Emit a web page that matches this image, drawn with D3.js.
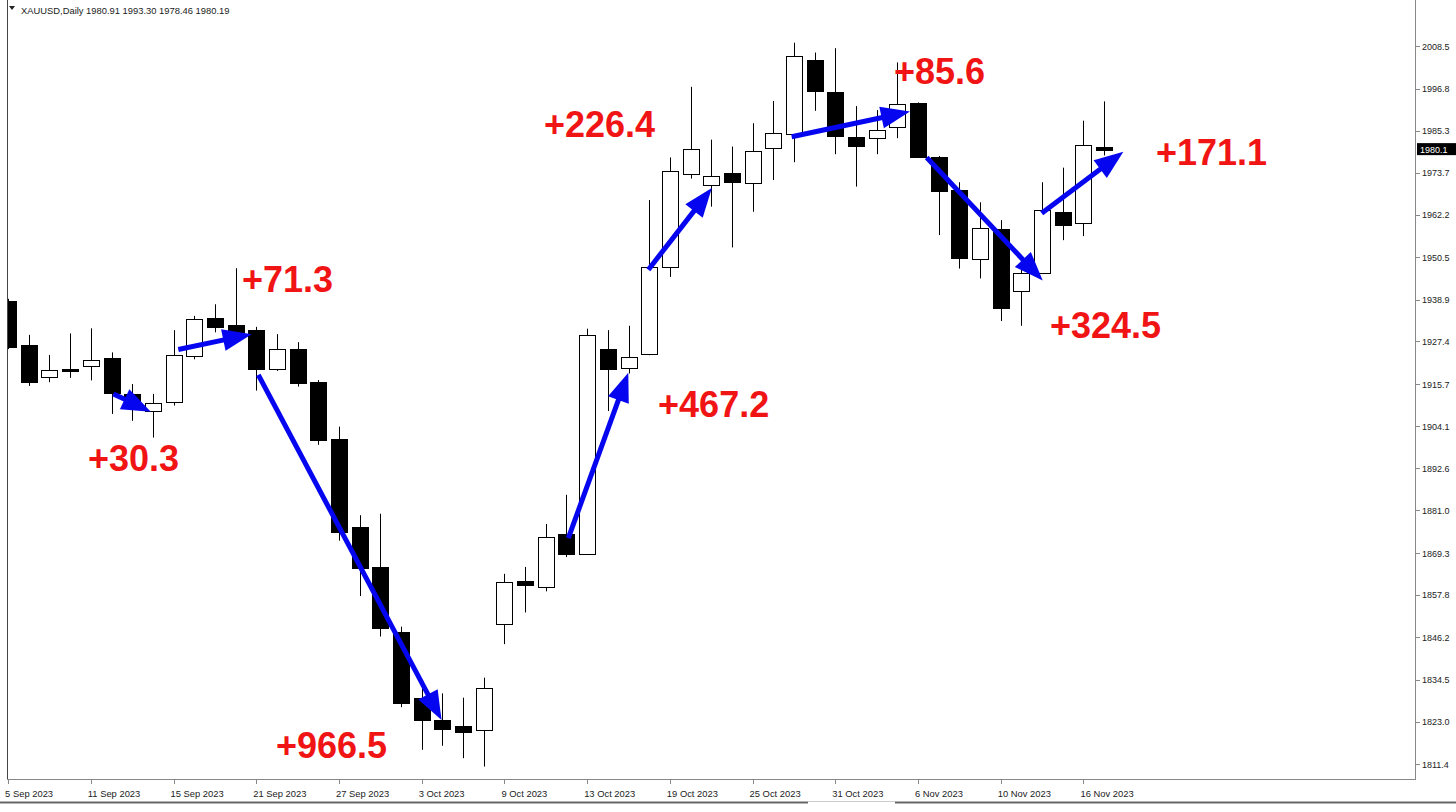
<!DOCTYPE html>
<html>
<head>
<meta charset="utf-8">
<script src="https://cdn.jsdelivr.net/npm/d3@7"></script>
<style>
  body { margin: 0; background: #fff; }
  svg { display: block; font-family: "Liberation Sans", Arial, sans-serif; }
</style>
</head>
<body>
<svg id="chart" width="1456" height="812"></svg>
<script>
// daily bars, 5 Sep 2023 .. 17 Nov 2023
var dates = ["5 Sep 2023","6 Sep 2023","7 Sep 2023","8 Sep 2023","11 Sep 2023","12 Sep 2023","13 Sep 2023","14 Sep 2023","15 Sep 2023",
  "18 Sep 2023","19 Sep 2023","20 Sep 2023","21 Sep 2023","22 Sep 2023","25 Sep 2023","26 Sep 2023","27 Sep 2023","28 Sep 2023","29 Sep 2023",
  "2 Oct 2023","3 Oct 2023","4 Oct 2023","5 Oct 2023","6 Oct 2023","9 Oct 2023","10 Oct 2023","11 Oct 2023","12 Oct 2023","13 Oct 2023",
  "16 Oct 2023","17 Oct 2023","18 Oct 2023","19 Oct 2023","20 Oct 2023","23 Oct 2023","24 Oct 2023","25 Oct 2023","26 Oct 2023","27 Oct 2023",
  "30 Oct 2023","31 Oct 2023","1 Nov 2023","2 Nov 2023","3 Nov 2023","6 Nov 2023","7 Nov 2023","8 Nov 2023","9 Nov 2023","10 Nov 2023",
  "13 Nov 2023","14 Nov 2023","15 Nov 2023","16 Nov 2023","17 Nov 2023"];

var opens  = [1938.5,1926.4,1917.6,1919.8,1920.7,1922.8,1913.0,1908.5,1910.6,1923.5,1933.8,1931.9,1930.5,1919.6,1925.2,1916.2,1900.6,1876.5,
  1865.4,1847.7,1829.4,1823.5,1821.8,1820.7,1849.8,1861.5,1860.2,1874.6,1869.0,1925.4,1920.1,1923.8,1947.8,1973.4,1970.3,1973.6,
  1970.9,1980.4,1984.5,2004.7,1995.8,1983.6,1983.2,1986.2,1992.8,1978.1,1969.0,1950.1,1958.3,1941.1,1946.1,1963.0,1959.8,1980.91];
var highs  = [1939.1,1929.2,1923.7,1929.6,1931.0,1924.4,1915.7,1913.0,1930.5,1934.4,1937.6,1947.5,1931.4,1929.4,1927.2,1916.8,1904.0,1879.7,
  1880.1,1849.1,1832.6,1830.8,1829.6,1835.1,1863.6,1865.5,1877.3,1885.3,1930.9,1930.5,1931.7,1966.2,1977.9,1997.3,1982.8,1980.9,
  1987.3,1993.4,2009.4,2006.7,2007.9,1992.0,1990.9,2004.0,1993.0,1978.3,1971.1,1965.6,1960.7,1948.9,1971.1,1975.1,1988.0,1993.30];
var lows   = [1925.3,1915.2,1916.2,1917.4,1916.7,1907.5,1905.6,1901.0,1909.8,1922.5,1929.9,1929.6,1913.9,1919.3,1915.0,1899.0,1872.7,1857.5,
  1846.4,1827.0,1815.3,1816.4,1813.0,1810.7,1844.3,1853.0,1858.8,1868.2,1868.8,1908.3,1918.6,1923.6,1945.1,1972.1,1964.4,1953.2,
  1963.0,1971.7,1976.6,1990.7,1978.8,1969.9,1978.8,1983.2,1977.9,1956.6,1947.4,1944.7,1933.0,1931.7,1945.9,1955.2,1956.3,1978.46];
var closes = [1925.9,1916.3,1919.5,1919.2,1922.3,1913.3,1910.2,1910.6,1923.6,1933.6,1931.2,1929.9,1919.9,1925.2,1915.8,1900.4,1875.2,1865.3,
  1848.7,1828.2,1823.3,1820.9,1820.2,1832.2,1861.4,1860.3,1873.8,1869.0,1929.1,1919.8,1923.2,1947.8,1974.2,1980.2,1972.7,1971.1,
  1979.7,1984.5,2005.8,1996.2,1983.8,1981.2,1985.4,1992.6,1978.1,1968.8,1950.2,1958.5,1936.7,1946.1,1963.5,1959.4,1981.3,1980.19];

var priceTicks = [2008.5,1996.8,1985.3,1973.7,1962.2,1950.5,1938.9,1927.4,1915.7,1904.1,1892.6,1881.0,1869.3,1857.8,1846.2,1834.5,1823.0,1811.4];

// annotations: [bar index, price] for arrow start / end, label anchor
var arrowFrom  = [[5.09,1913.0],[8.23,1925.2],[12.1,1918.2],[27.09,1873.4],[30.96,1947.1],[37.89,1983.6],[44.42,1977.9],[49.98,1962.6]];
var arrowTo    = [[6.90,1908.1],[11.78,1929.4],[20.96,1823.5],[29.99,1918.8],[34.03,1969.5],[43.61,1990.5],[50.03,1944.1],[53.93,1979.5]];
var labelText  = ["+30.3","+71.3","+966.5","+467.2","+226.4","+85.6","+324.5","+171.1"];
var labelPos   = [[3.86,1891.8],[11.31,1941.0],[12.95,1813.1],[31.43,1906.7],[25.91,1983.5],[42.84,1998.2],[50.38,1928.3],[55.51,1975.8]];

var svg = d3.select("#chart");
var W = 1456, H = 812;
var left = 7, right = 1415, bottom = 779;

var x = d3.scaleLinear().domain([0, dates.length - 1]).range([8.1, 8.1 + 20.68 * (dates.length - 1)]);
var y = d3.scaleLinear().domain([1811.4, 2008.5]).range([764, 46]);

var bars = dates.map(function(d, i){
  return {date: d, i: i, o: opens[i], h: highs[i], l: lows[i], c: closes[i]};
});

svg.append("defs").append("clipPath").attr("id", "plot")
  .append("rect").attr("x", left + 0.5).attr("y", 0).attr("width", right - left - 1).attr("height", bottom);

var plot = svg.append("g").attr("clip-path", "url(#plot)");

// wicks
plot.selectAll(".wick").data(bars).enter().append("line")
  .attr("x1", function(d){ return Math.round(x(d.i)) + 0.5; })
  .attr("x2", function(d){ return Math.round(x(d.i)) + 0.5; })
  .attr("y1", function(d){ return y(d.h); })
  .attr("y2", function(d){ return y(d.l); })
  .attr("stroke", "#000").attr("stroke-width", 1);

// bodies
plot.selectAll(".body").data(bars).enter().append("rect")
  .attr("x", function(d){ return Math.round(x(d.i)) - 7.5; })
  .attr("width", 16)
  .attr("y", function(d){ return Math.round(y(Math.max(d.o, d.c))) + 0.5; })
  .attr("height", function(d){ return Math.max(1, Math.round(Math.abs(y(d.o) - y(d.c)))); })
  .attr("fill", function(d){ return d.c >= d.o ? "#fff" : "#000"; })
  .attr("stroke", "#000").attr("stroke-width", 1)
  .attr("shape-rendering", "crispEdges");

// frame
svg.append("line").attr("x1", left + 0.5).attr("x2", left + 0.5).attr("y1", 0).attr("y2", bottom)
  .attr("stroke", "#444");
svg.append("line").attr("x1", right + 0.5).attr("x2", right + 0.5).attr("y1", 0).attr("y2", bottom)
  .attr("stroke", "#888");
svg.append("line").attr("x1", left).attr("x2", right + 1).attr("y1", bottom + 0.5).attr("y2", bottom + 0.5)
  .attr("stroke", "#888");

// price axis
var pa = svg.append("g");
pa.selectAll("line").data(priceTicks).enter().append("line")
  .attr("x1", right + 1).attr("x2", right + 5)
  .attr("y1", function(d){ return Math.round(y(d)) + 0.5; })
  .attr("y2", function(d){ return Math.round(y(d)) + 0.5; })
  .attr("stroke", "#888");
pa.selectAll("text").data(priceTicks).enter().append("text")
  .attr("x", right + 7).attr("y", function(d){ return y(d) + 3.5; })
  .attr("font-size", "9px").attr("fill", "#222")
  .text(function(d){ return d.toFixed(1); });

// current price marker
var last = closes[closes.length - 1];
svg.append("rect").attr("x", right + 2).attr("y", y(last) - 6).attr("width", 40).attr("height", 12).attr("fill", "#000");
svg.append("text").attr("x", right + 5).attr("y", y(last) + 3.5).attr("font-size", "9px").attr("fill", "#fff")
  .text(last.toFixed(2).slice(0, 6));

// date axis
var dateIdx = d3.range(0, dates.length, 4);
var da = svg.append("g");
da.selectAll("line").data(dateIdx).enter().append("line")
  .attr("x1", function(i){ return Math.round(x(i)) + 0.5; })
  .attr("x2", function(i){ return Math.round(x(i)) + 0.5; })
  .attr("y1", bottom + 1).attr("y2", bottom + 5)
  .attr("stroke", "#888");
da.selectAll("text").data(dateIdx).enter().append("text")
  .attr("x", function(i){ return x(i) - 3; }).attr("y", bottom + 18)
  .attr("font-size", "9.4px").attr("fill", "#222")
  .text(function(i){ return dates[i]; });

// bottom tab strip
svg.append("line").attr("x1", 0).attr("x2", 808).attr("y1", 802.5).attr("y2", 802.5).attr("stroke", "#666").attr("stroke-width", 2);
svg.append("line").attr("x1", 895).attr("x2", W).attr("y1", 802.5).attr("y2", 802.5).attr("stroke", "#666").attr("stroke-width", 2);
svg.append("line").attr("x1", 808).attr("x2", 895).attr("y1", 801.5).attr("y2", 801.5).attr("stroke", "#ccc");

// header
svg.append("path").attr("d", "M9,6 L15,6 L12,10 Z").attr("fill", "#222");
svg.append("text").attr("x", 21).attr("y", 14).attr("font-size", "9.4px").attr("fill", "#222")
  .text("XAUUSD,Daily  " + [opens, highs, lows, closes].map(function(a){ return a[a.length - 1].toFixed(2); }).join(" "));

// arrows
var blue = "#0505f0";
var headLen = 29, headW = 22;
arrowFrom.forEach(function(s, k){
  var e = arrowTo[k];
  var x0 = x(s[0]), y0 = y(s[1]), x1 = x(e[0]), y1 = y(e[1]);
  var dx = x1 - x0, dy = y1 - y0, len = Math.sqrt(dx * dx + dy * dy);
  var ux = dx / len, uy = dy / len;
  var bx = x1 - ux * headLen, by = y1 - uy * headLen;
  svg.append("line").attr("x1", x0).attr("y1", y0).attr("x2", bx + ux * 2).attr("y2", by + uy * 2)
    .attr("stroke", blue).attr("stroke-width", 5);
  svg.append("path")
    .attr("d", "M" + x1 + "," + y1 +
      " L" + (bx - uy * headW / 2) + "," + (by + ux * headW / 2) +
      " L" + (bx + uy * headW / 2) + "," + (by - ux * headW / 2) + " Z")
    .attr("fill", blue);
});

// labels
svg.selectAll(".lbl").data(labelText).enter().append("text")
  .attr("x", function(d, k){ return x(labelPos[k][0]); })
  .attr("y", function(d, k){ return y(labelPos[k][1]); })
  .attr("font-size", "36px").attr("font-weight", "bold").attr("fill", "#f01414")
  .text(function(d){ return d; });
</script>
</body>
</html>
